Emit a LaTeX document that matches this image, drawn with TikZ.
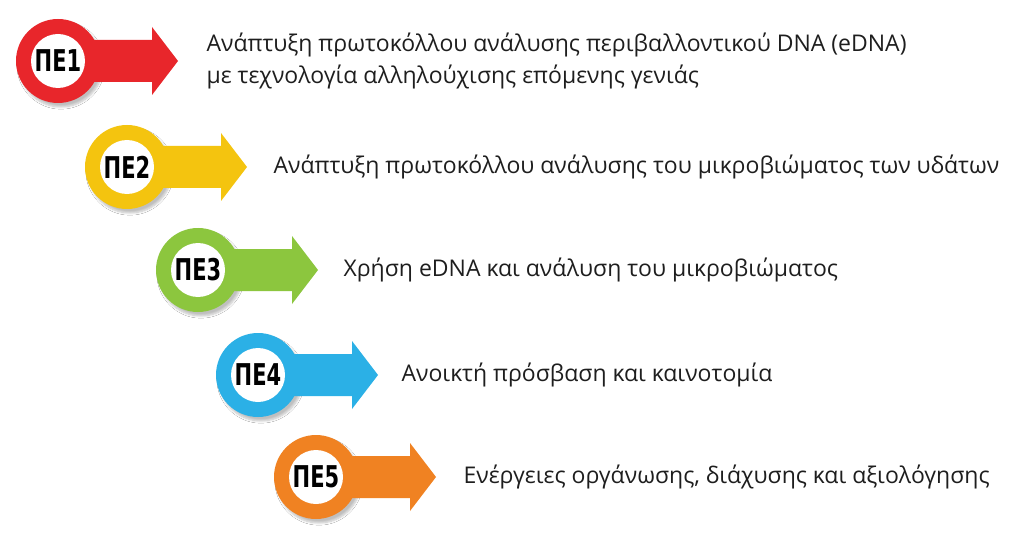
\documentclass[tikz,border=0pt]{standalone}
\usepackage{fontspec}
\setmainfont{Open Sans}
\newfontfamily\pefont{DejaVu Sans}
\usetikzlibrary{positioning,shadows.blur}
\definecolor{pered}{HTML}{E8262B}
\definecolor{peyellow}{HTML}{F4C40F}
\definecolor{pegreen}{HTML}{8CC63E}
\definecolor{peblue}{HTML}{2BB0E6}
\definecolor{peorange}{HTML}{F08222}
\definecolor{petext}{HTML}{1E1E1E}
\tikzset{
  ring/.style={circle,minimum size=84pt,inner sep=0pt,fill=#1,
    blur shadow={shadow xshift=3pt,shadow yshift=-4pt,shadow opacity=25,shadow blur steps=6}},
  hole/.style={circle,minimum size=54pt,inner sep=0pt,fill=white,
    font=\pefont\bfseries\fontsize{30}{30}\selectfont},
  wp/.style={anchor=west,align=left,text=petext,
    font=\fontsize{23}{32}\selectfont}
}
\newcommand{\pearrow}[2]{%
  \fill[#2] ([yshift=21pt]#1.center) -- ++(94,0) -- ++(0,13) -- ++(26,-34)
    -- ++(-26,-34) -- ++(0,13) -- ++(-94,0) -- cycle;}
\begin{document}
\begin{tikzpicture}[x=1pt,y=1pt]
\useasboundingbox[fill=white] (0,0) rectangle (1024,-553);
\node[ring=pered] (r1) at (58,-61) {};
\node[ring=peyellow] (r2) at (127,-167) {};
\node[ring=pegreen] (r3) at (198,-270) {};
\node[ring=peblue] (r4) at (258,-375) {};
\node[ring=peorange] (r5) at (316,-477) {};
\pearrow{r1}{pered}
\pearrow{r2}{peyellow}
\pearrow{r3}{pegreen}
\pearrow{r4}{peblue}
\pearrow{r5}{peorange}
\node[hole] (pe1) at (r1) {\scalebox{0.7}[1]{ΠΕ1}};
\node[hole] (pe2) at (r2) {\scalebox{0.7}[1]{ΠΕ2}};
\node[hole] (pe3) at (r3) {\scalebox{0.7}[1]{ΠΕ3}};
\node[hole] (pe4) at (r4) {\scalebox{0.7}[1]{ΠΕ4}};
\node[hole] (pe5) at (r5) {\scalebox{0.7}[1]{ΠΕ5}};
\node[wp] (t1) at ([xshift=145pt]r1.center) {Ανάπτυξη πρωτοκόλλου ανάλυσης περιβαλλοντικού DNA (eDNA)\\με τεχνολογία αλληλούχισης επόμενης γενιάς};
\node[wp] (t2) at ([xshift=143pt]r2.center) {Ανάπτυξη πρωτοκόλλου ανάλυσης του μικροβιώματος των υδάτων};
\node[wp] (t3) at ([xshift=142pt]r3.center) {Χρήση eDNA και ανάλυση του μικροβιώματος};
\node[wp] (t4) at ([xshift=140pt]r4.center) {Ανοικτή πρόσβαση και καινοτομία};
\node[wp] (t5) at ([xshift=144pt]r5.center) {Ενέργειες οργάνωσης, διάχυσης και αξιολόγησης};
\end{tikzpicture}
\end{document}
